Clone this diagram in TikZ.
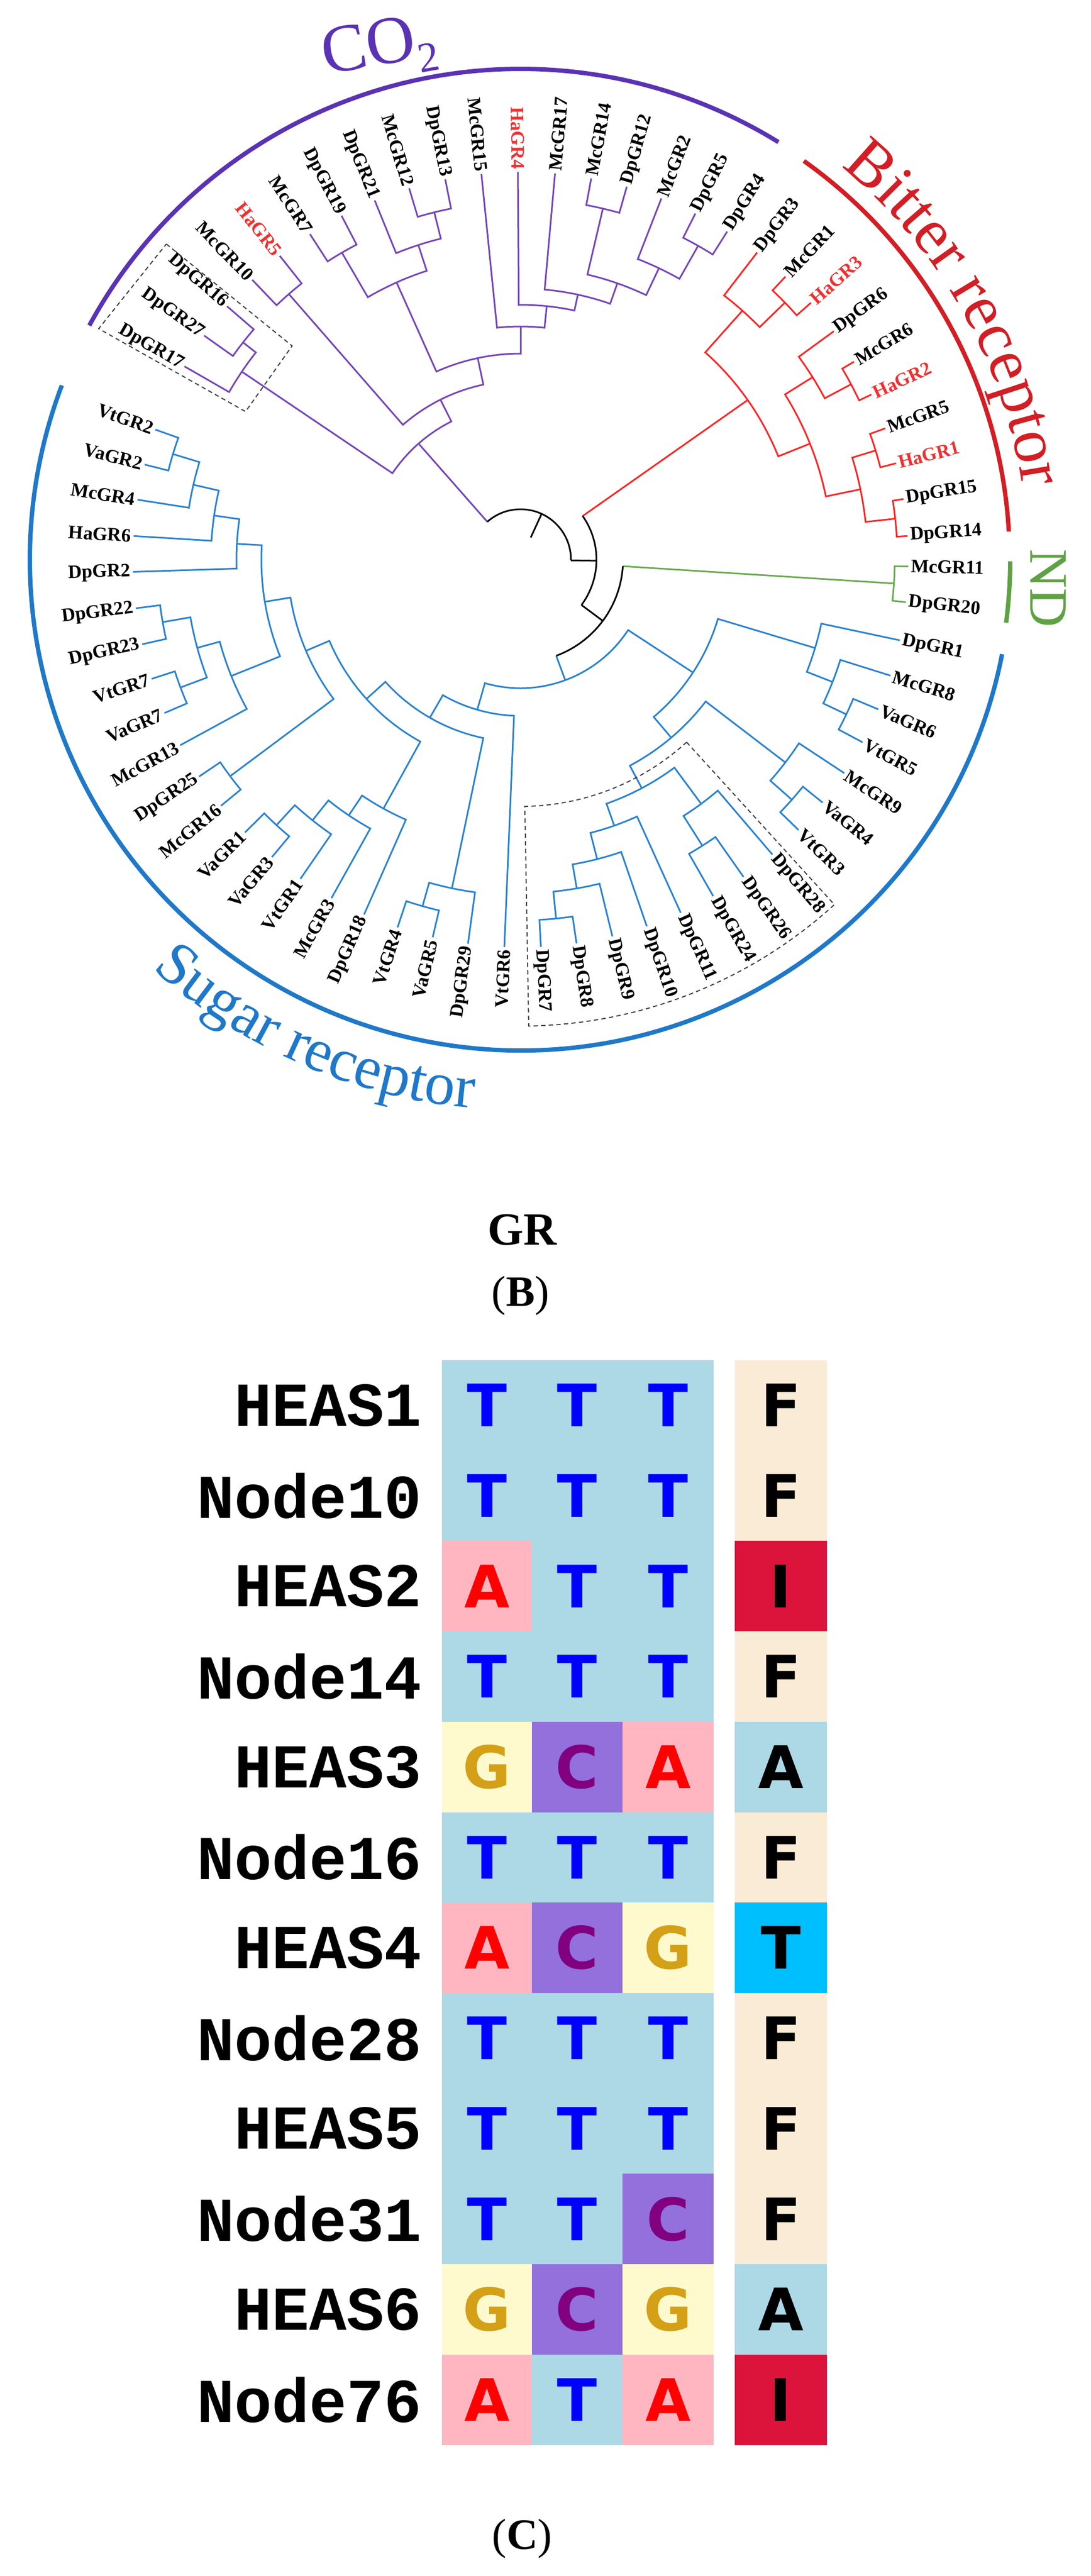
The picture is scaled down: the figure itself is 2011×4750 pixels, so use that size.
\documentclass[tikz,border=0pt]{standalone}
\usepackage{fontspec}
\setmainfont{Liberation Serif}
\newfontfamily\monof{Liberation Mono}
\newfontfamily\resf{DejaVu Sans}
\usetikzlibrary{decorations.text}
\definecolor{pcol}{HTML}{7445B8}
\definecolor{pgrp}{HTML}{5A32B4}
\definecolor{rcol}{HTML}{FF2424}
\definecolor{bitc}{HTML}{D21E24}
\definecolor{gcol}{HTML}{6AAA50}
\definecolor{ndc}{HTML}{5EA243}
\definecolor{bcol}{HTML}{2A82D0}
\definecolor{sugc}{HTML}{1F78C8}
\definecolor{hared}{HTML}{F03030}
\definecolor{bgT}{HTML}{ADD8E6}
\definecolor{bgA}{HTML}{FFB6C1}
\definecolor{bgG}{HTML}{FFFACD}
\definecolor{bgC}{HTML}{9370DB}
\definecolor{fgT}{HTML}{0000FF}
\definecolor{fgA}{HTML}{FF0000}
\definecolor{fgG}{HTML}{D4A017}
\definecolor{fgC}{HTML}{800080}
\definecolor{bxF}{HTML}{FAEBD7}
\definecolor{bxI}{HTML}{DC143C}
\definecolor{bxA}{HTML}{ADD8E6}
\definecolor{bxT}{HTML}{00BFFF}
\newcommand\Bn[6]{\draw[#1] (#3:#4) -- (#3:#2) arc[start angle=#3, end angle=#5, radius=#2] -- (#5:#6);}
\newcommand\LR[3][]{\node[leaf,#1,rotate=#2,anchor=west] (l#3) at (#2:720) {#3};}
\newcommand\LL[3][]{\node[leaf,#1,rotate=#2+180,anchor=east] (l#3) at (#2:720) {#3};}
\newcommand\bitfont{\fontsize{120}{120}\selectfont\color{bitc}}
\newcommand\sugfont{\fontsize{112}{112}\selectfont\color{sugc}}
\begin{document}
\begin{tikzpicture}[x=1pt,y=-1pt,
  tl/.style={line width=3pt},
  P/.style={tl,draw=pcol}, R/.style={tl,draw=rcol}, G/.style={tl,draw=gcol},
  S/.style={tl,draw=bcol}, K/.style={tl,draw=black},
  grp/.style={line width=8pt},
  leaf/.style={inner sep=0pt,font=\fontsize{35}{40}\selectfont\bfseries},
  red/.style={text=hared},
  dbox/.style={line width=2pt,dash pattern=on 8pt off 6pt,draw=black!75},
  res/.style={inner sep=0pt,font=\fontsize{108}{110}\resf\bfseries},
  lab/.style={inner sep=0pt,font=\fontsize{115}{115}\monof\bfseries,anchor=east}]
\useasboundingbox (0,0) rectangle (2011,4750);
\fill[white] (0,0) rectangle (2011,4750);
\begin{scope}[shift={(960,1032)},y=1pt]
\def\L{715}
% ---- CO2 clade
\Bn{P}{650}{144.7}{\L}{139.2}{\L}
\Bn{P}{620}{150.1}{\L}{141.95}{650}
\Bn{P}{650}{133.8}{\L}{128.4}{\L}
\Bn{P}{655}{122.9}{\L}{117.5}{\L}
\Bn{P}{660}{106.7}{\L}{101.2}{\L}
\Bn{P}{610}{112.1}{\L}{103.95}{660}
\Bn{P}{560}{120.2}{655}{108.0}{610}
\Bn{P}{665}{79.5}{\L}{74.1}{\L}
\Bn{P}{665}{63.2}{\L}{57.8}{\L}
\Bn{P}{595}{68.7}{\L}{60.5}{665}
\Bn{P}{540}{76.8}{665}{64.6}{595}
\Bn{P}{500}{84.9}{\L}{70.7}{540}
\Bn{P}{470}{90.4}{\L}{77.8}{500}
\Bn{P}{430}{95.8}{\L}{84.1}{470}
\Bn{P}{380}{114.1}{560}{89.95}{430}
\Bn{P}{330}{131.1}{650}{102.0}{380}
\Bn{P}{285}{146.0}{620}{116.6}{330}
\draw[P] (131.3:93) -- (131.3:285);
% ---- Bitter clade
\Bn{R}{680}{46.9}{\L}{41.5}{\L}
\Bn{R}{615}{52.4}{\L}{44.2}{680}
\Bn{R}{690}{30.7}{\L}{25.2}{\L}
\Bn{R}{635}{36.1}{\L}{27.95}{690}
\Bn{R}{685}{19.8}{\L}{14.4}{\L}
\Bn{R}{695}{9.0}{\L}{3.5}{\L}
\Bn{R}{640}{17.1}{685}{6.25}{695}
\Bn{R}{575}{32.0}{635}{11.7}{640}
\Bn{R}{512}{48.3}{615}{21.85}{575}
\draw[R] (35.1:140) -- (35.1:512);
% ---- ND
\Bn{G}{690}{-1.0}{\L}{-6.3}{\L}
\draw[G] (-3.65:189) -- (-3.65:690);
% ---- Sugar clade
\Bn{S}{665}{-22.7}{\L}{-28.1}{\L}
\Bn{S}{618}{-17.4}{\L}{-25.4}{665}
\Bn{S}{567}{-12.0}{\L}{-21.4}{618}
\Bn{S}{668}{-38.8}{\L}{-44.2}{\L}
\Bn{S}{615}{-33.4}{\L}{-41.5}{668}
\Bn{S}{625}{-54.9}{\L}{-60.2}{\L}
\Bn{S}{560}{-49.5}{\L}{-57.55}{625}
\Bn{S}{665}{-81.7}{\L}{-87.0}{\L}
\Bn{S}{615}{-76.3}{\L}{-84.35}{665}
\Bn{S}{570}{-71.0}{\L}{-80.3}{615}
\Bn{S}{520}{-65.6}{\L}{-75.65}{570}
\Bn{S}{477}{-53.5}{560}{-70.6}{520}
\Bn{S}{430}{-37.45}{615}{-62.05}{477}
\Bn{S}{380}{-16.7}{567}{-49.75}{430}
\Bn{S}{664}{-103.1}{\L}{-108.5}{\L}
\Bn{S}{619}{-97.8}{\L}{-105.8}{664}
\Bn{S}{665}{-129.9}{\L}{-135.3}{\L}
\Bn{S}{615}{-124.6}{\L}{-132.6}{665}
\Bn{S}{568}{-119.2}{\L}{-128.6}{615}
\Bn{S}{524}{-113.8}{\L}{-123.9}{568}
\Bn{S}{668}{-140.6}{\L}{-146.0}{\L}
\Bn{S}{670}{-156.7}{\L}{-162.1}{\L}
\Bn{S}{670}{-167.4}{\L}{-172.8}{\L}
\Bn{S}{618}{-159.4}{670}{-170.1}{670}
\Bn{S}{575}{-151.4}{\L}{-164.75}{618}
\Bn{S}{670}{-194.2}{\L}{-199.6}{\L}
\Bn{S}{619}{-188.9}{\L}{-196.9}{670}
\Bn{S}{571}{-183.5}{\L}{-192.9}{619}
\Bn{S}{524}{-178.2}{\L}{-188.2}{571}
\Bn{S}{478}{-158.1}{575}{-183.2}{524}
\Bn{S}{430}{-143.3}{668}{-170.65}{478}
\Bn{S}{383}{-118.85}{524}{-157.0}{430}
\Bn{S}{336}{-101.8}{619}{-137.9}{383}
\Bn{S}{288}{-92.4}{\L}{-119.85}{336}
\Bn{S}{237}{-33.2}{380}{-106.1}{288}
\draw[S] (-69.65:189) -- (-69.65:237);
% ---- root (black)
\draw[K] (-36.65:140) -- (-36.65:189) (-3.65:189) arc[start angle=-3.65,end angle=-69.65,radius=189];
\draw[K] (-0.775:93) -- (-0.775:140) (35.1:140) arc[start angle=35.1,end angle=-36.65,radius=140];
\draw[K] (65.3:45) -- (65.3:93) (131.3:93) arc[start angle=131.3,end angle=-0.775,radius=93];
% ---- leaf labels
\LL{150.1}{DpGR17}\LL{144.7}{DpGR27}\LL{139.2}{DpGR16}\LL{133.8}{McGR10}
\LL[red]{128.4}{HaGR5}\LL{122.9}{McGR7}\LL{117.5}{DpGR19}\LL{112.1}{DpGR21}
\LL{106.7}{McGR12}\LL{101.2}{DpGR13}\LL{95.8}{McGR15}\LL[red]{90.4}{HaGR4}
\LR{84.9}{McGR17}\LR{79.5}{McGR14}\LR{74.1}{DpGR12}\LR{68.7}{McGR2}
\LR{63.2}{DpGR5}\LR{57.8}{DpGR4}\LR{52.4}{DpGR3}\LR{46.9}{McGR1}
\LR[red]{41.5}{HaGR3}\LR{36.1}{DpGR6}\LR{30.7}{McGR6}\LR[red]{25.2}{HaGR2}
\LR{19.8}{McGR5}\LR[red]{14.4}{HaGR1}\LR{9.0}{DpGR15}\LR{3.5}{DpGR14}
\LR{-1.0}{McGR11}\LR{-6.3}{DpGR20}\LR{-12.0}{DpGR1}\LR{-17.4}{McGR8}
\LR{-22.7}{VaGR6}\LR{-28.1}{VtGR5}\LR{-33.4}{McGR9}\LR{-38.8}{VaGR4}
\LR{-44.2}{VtGR3}\LR{-49.5}{DpGR28}\LR{-54.9}{DpGR26}\LR{-60.2}{DpGR24}
\LR{-65.6}{DpGR11}\LR{-71.0}{DpGR10}\LR{-76.3}{DpGR9}\LR{-81.7}{DpGR8}
\LR{-87.0}{DpGR7}
\LL{-92.4}{VtGR6}\LL{-97.8}{DpGR29}\LL{-103.1}{VaGR5}\LL{-108.5}{VtGR4}
\LL{-113.8}{DpGR18}\LL{-119.2}{McGR3}\LL{-124.6}{VtGR1}\LL{-129.9}{VaGR3}
\LL{-135.3}{VaGR1}\LL{-140.6}{McGR16}\LL{-146.0}{DpGR25}\LL{-151.4}{McGR13}
\LL{-156.7}{VaGR7}\LL{-162.1}{VtGR7}\LL{-167.4}{DpGR23}\LL{-172.8}{DpGR22}
\LL{-178.2}{DpGR2}\LL{-183.5}{HaGR6}\LL{-188.9}{McGR4}\LL{-194.2}{VaGR2}
\LL{-199.6}{VtGR2}
% ---- dashed boxes
\draw[dbox] (138.3:875) -- (136.9:577) -- (151.7:576) -- (151.3:887) -- cycle;
\draw[dbox] (-47.7:455) -- (-47.7:860) arc[start angle=-47.7,end angle=-89,radius=860] -- (-89:455) arc[start angle=-89,end angle=-47.7,radius=455] -- cycle;
% ---- group arcs
\draw[grp,draw=pgrp] (151.5:905) arc[start angle=151.5,end angle=58.3,radius=905];
\draw[grp,draw=bitc] (54.6:902) arc[start angle=54.6,end angle=3.3,radius=902];
\draw[grp,draw=ndc] (-0.2:903) arc[start angle=-0.2,end angle=-7.4,radius=903];
\draw[grp,draw=sugc] (-11.1:905) arc[start angle=-11.1,end angle=-200.8,radius=905];
\path[decorate,decoration={text along path,text align=center,text={|\bitfont|Bitter receptor}}]
  (55:935) arc[start angle=55,end angle=4,radius=935];
\path[decorate,decoration={text along path,text align=center,text={|\sugfont|Sugar receptor}}]
  (-150:1015) arc[start angle=-150,end angle=-77,radius=1015];
\end{scope}
\node[rotate=10,text=pgrp,inner sep=0pt,font=\fontsize{125}{125}\selectfont] (co2) at (700,92) {CO\raisebox{-0.22em}{\fontsize{78}{78}\selectfont 2}};
\node[rotate=-90,text=ndc,inner sep=0pt,font=\fontsize{100}{100}\selectfont] (nd) at (1933,1085) {ND};
% ---- captions
\node[inner sep=0pt,font=\fontsize{85}{85}\selectfont\bfseries] (gr) at (963,2268) {GR};
\node[inner sep=0pt,font=\fontsize{80}{80}\selectfont] (capb) at (960,2389) {(\textbf{B})};
\node[inner sep=0pt,font=\fontsize{80}{80}\selectfont] (capc) at (963,4681) {(\textbf{C})};
% ---- table
\foreach \i/\lab/\a/\b/\c/\d in {0/HEAS1/T/T/T/F,1/Node10/T/T/T/F,2/HEAS2/A/T/T/I,3/Node14/T/T/T/F,4/HEAS3/G/C/A/A,5/Node16/T/T/T/F,6/HEAS4/A/C/G/T,7/Node28/T/T/T/F,8/HEAS5/T/T/T/F,9/Node31/T/T/C/F,10/HEAS6/G/C/G/A,11/Node76/A/T/A/I}{
  \pgfmathsetmacro\yt{2508+166.7*\i}
  \pgfmathsetmacro\yb{\yt+167.2}
  \pgfmathsetmacro\ym{\yt+83.35}
  \fill[bg\a] (815,\yt) rectangle (982,\yb);
  \fill[bg\b] (981,\yt) rectangle (1149,\yb);
  \fill[bg\c] (1148,\yt) rectangle (1316,\yb);
  \fill[bx\d] (1355,\yt) rectangle (1525,\yb);
  \node[res,text=fg\a] (ra\i) at (898,\ym) {\a};
  \node[res,text=fg\b] (rb\i) at (1064,\ym) {\b};
  \node[res,text=fg\c] (rc\i) at (1232,\ym) {\c};
  \node[res,text=black] (rd\i) at (1440,\ym) {\d};
  \node[lab] (n\i) at (778,\ym) {\lab};
}
\end{tikzpicture}
\end{document}
